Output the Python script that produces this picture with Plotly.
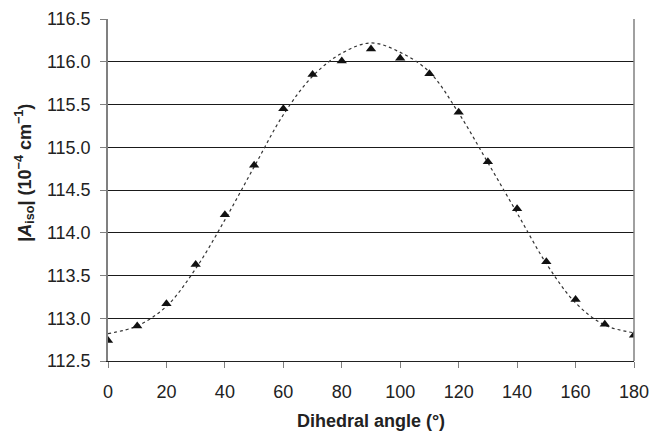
import plotly.graph_objects as go

# Data points (dihedral angle, |A_iso|)
angles = [0, 10, 20, 30, 40, 50, 60, 70, 80, 90, 100, 110, 120, 130, 140, 150, 160, 170, 180]
a_iso = [112.74, 112.91, 113.17, 113.63, 114.21, 114.79, 115.45, 115.85, 116.01, 116.15,
         116.04, 115.86, 115.41, 114.83, 114.28, 113.66, 113.22, 112.93, 112.80]

# Fitted (dotted) curve
fit_angles = [0, 10, 20, 30, 40, 50, 60, 70, 80, 90, 100, 110, 120, 130, 140, 150, 160, 170, 180]
fit_values = [112.82, 112.91, 113.14, 113.58, 114.15, 114.77, 115.38, 115.83, 116.10, 116.22,
              116.11, 115.88, 115.40, 114.82, 114.23, 113.64, 113.18, 112.92, 112.83]

x_ticks = [0, 20, 40, 60, 80, 100, 120, 140, 160, 180]
y_ticks = [112.5, 113.0, 113.5, 114.0, 114.5, 115.0, 115.5, 116.0, 116.5]

font_family = "Liberation Sans, Arial, sans-serif"

fig = go.Figure()
fig.add_trace(go.Scatter(
    x=fit_angles, y=fit_values, mode="lines",
    line=dict(color="#333333", width=1.2, dash="dot", shape="spline", smoothing=1.0),
    hoverinfo="skip", showlegend=False,
))
fig.add_trace(go.Scatter(
    x=angles, y=a_iso, mode="markers",
    marker=dict(symbol="triangle-up", size=9, color="#111111"),
    showlegend=False,
))

fig.update_layout(
    width=650, height=431,
    margin=dict(l=108, r=16, t=19, b=70),
    paper_bgcolor="white", plot_bgcolor="white",
    font=dict(family=font_family, size=18, color="#222222"),
    xaxis=dict(
        range=[0, 180], tickvals=x_ticks, ticktext=[str(v) for v in x_ticks],
        automargin=False,
        showgrid=False, zeroline=False,
        showline=True, linecolor="#222222", linewidth=1, mirror=False,
        ticks="outside", ticklen=6, tickcolor="#808080", tickwidth=1,
        tickfont=dict(size=18),
        ticklabelstandoff=8,
        title=dict(text="<b>Dihedral angle (°)</b>", font=dict(size=18), standoff=16),
    ),
    yaxis=dict(
        range=[112.5, 116.5], tickvals=y_ticks, ticktext=[f"{v:.1f}" for v in y_ticks],
        automargin=False,
        showgrid=True, gridcolor="#1a1a1a", gridwidth=1,
        zeroline=False,
        showline=True, linecolor="#808080", linewidth=1.5, mirror=False,
        ticks="outside", ticklen=6, tickcolor="#808080", tickwidth=1,
        tickfont=dict(size=18),
        ticklabelstandoff=6,
    ),
    shapes=[
        dict(type="line", xref="paper", yref="paper", x0=1, x1=1, y0=0, y1=1,
             line=dict(color="#808080", width=1.5)),
    ],
    annotations=[
        dict(text="<b>|<i>A</i><sub>iso</sub>| (10<sup>−4</sup> cm<sup>−1</sup>)</b>",
             xref="paper", yref="paper", x=-0.158, y=0.55,
             xanchor="center", yanchor="middle", textangle=-90, showarrow=False,
             font=dict(size=18)),
    ],
)

fig.write_html(
    "out.html",
    config={"displayModeBar": False},
    post_script="document.body.style.margin='0';document.body.style.overflow='hidden';",
)
